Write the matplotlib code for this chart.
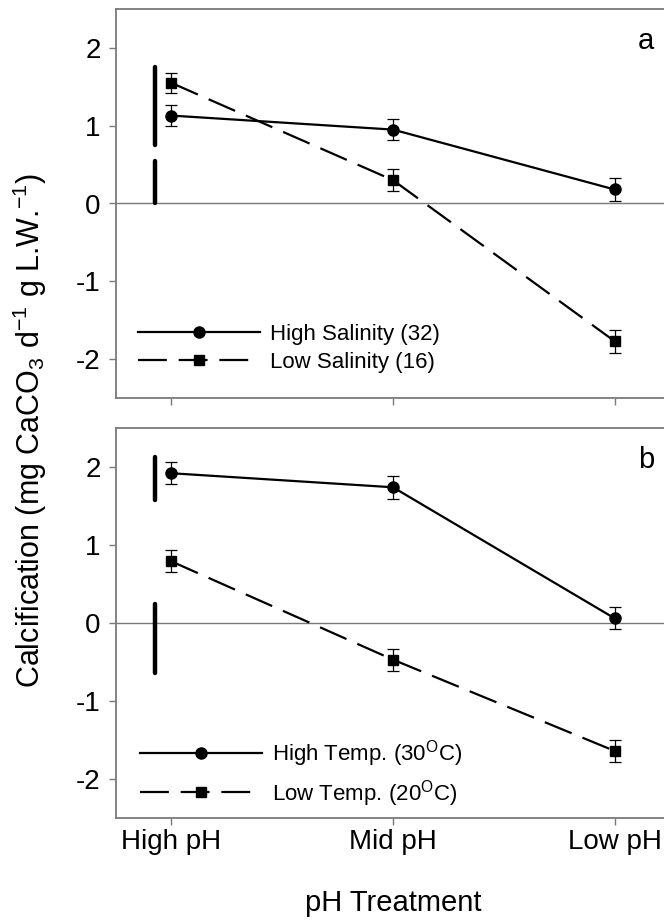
import matplotlib
matplotlib.use("Agg")
import matplotlib.pyplot as plt
import numpy as np

plt.rcParams['font.family'] = ['Liberation Sans', 'DejaVu Sans']
plt.rcParams['mathtext.fontset'] = 'custom'
plt.rcParams['mathtext.rm'] = 'Liberation Sans'
plt.rcParams['mathtext.default'] = 'regular'
plt.rcParams['axes.unicode_minus'] = False

# data
treatments = ["High pH", "Mid pH", "Low pH"]
yticks = [-2, -1, 0, 1, 2]

sal_high = [1.13, 0.95, 0.18]
sal_high_err = [0.14, 0.14, 0.15]
sal_low = [1.55, 0.30, -1.77]
sal_low_err = [0.13, 0.14, 0.15]
sal_bars = [(0.75, 1.75), (0.0, 0.55)]

temp_high = [1.92, 1.74, 0.06]
temp_high_err = [0.14, 0.15, 0.14]
temp_low = [0.79, -0.47, -1.64]
temp_low_err = [0.14, 0.14, 0.14]
temp_bars = [(1.58, 2.13), (-0.64, 0.25)]

bar_x = -0.075

fig = plt.figure(figsize=(6.64, 9.22), dpi=100)
W, H = 664.0, 922.0
ax_a = fig.add_axes([116 / W, 1 - 398 / H, 554 / W, 389 / H])
ax_b = fig.add_axes([116 / W, 1 - 818 / H, 554 / W, 390 / H])

x = np.arange(len(treatments))
grey = '#7a7a7a'


def draw(ax, hi, hi_err, lo, lo_err, bars, labels, letter, spacing, anchor):
    ax.axhline(0, color=grey, lw=1.0, zorder=1)
    ax.errorbar(x, hi, yerr=hi_err, color='black', lw=1.6, marker='o', ms=8,
                capsize=4, elinewidth=0.9, capthick=0.9, label=labels[0], zorder=3)
    l2 = ax.errorbar(x, lo, yerr=lo_err, color='black', lw=1.6, marker='s', ms=6.5,
                     capsize=4, elinewidth=0.9, capthick=0.9, label=labels[1], zorder=3)
    l2[0].set_dashes((13, 5.3))
    for y0, y1 in bars:
        ax.plot([bar_x, bar_x], [y0, y1], color='black', lw=3.2,
                solid_capstyle='round', zorder=2)
    ax.set_xlim(-0.25, 2.25)
    ax.set_ylim(-2.5, 2.5)
    ax.set_yticks(yticks)
    ax.set_yticklabels([str(t) for t in yticks])
    ax.set_xticks(x)
    for s in ax.spines.values():
        s.set_color(grey)
        s.set_linewidth(1.3)
    ax.tick_params(direction='out', length=5, width=1, color=grey,
                   labelsize=20, pad=6)
    ax.tick_params(axis='x', pad=3)
    ax.text(0.972, 0.955, letter, transform=ax.transAxes, fontsize=21,
            ha='right', va='top')
    handles, labs = ax.get_legend_handles_labels()
    handles = [h[0] for h in handles]
    ax.legend(handles, labs, loc='lower left', bbox_to_anchor=anchor,
              frameon=False, fontsize=16, handlelength=5.5, handletextpad=0.45,
              labelspacing=spacing, borderpad=0, borderaxespad=0)


draw(ax_a, sal_high, sal_high_err, sal_low, sal_low_err, sal_bars,
     ["High Salinity (32)", "Low Salinity (16)"], "a", 0.3, (0.04, 0.065))
draw(ax_b, temp_high, temp_high_err, temp_low, temp_low_err, temp_bars,
     ["High Temp. (30$^{O}$C)", "Low Temp. (20$^{O}$C)"], "b", 0.39, (0.043, 0.024))

ax_a.set_xticklabels([])
ax_b.set_xticklabels(treatments)
fig.text(393 / W, 1 - 903 / H, "pH Treatment", fontsize=21, ha='center', va='center')

fig.text(0.045, 1 - 430 / H, "Calcification (mg CaCO$_3$ d$^{-1}$ g L.W.$^{-1}$)",
         rotation=90, fontsize=22, ha='center', va='center')

fig.savefig("out.png", dpi=100)
